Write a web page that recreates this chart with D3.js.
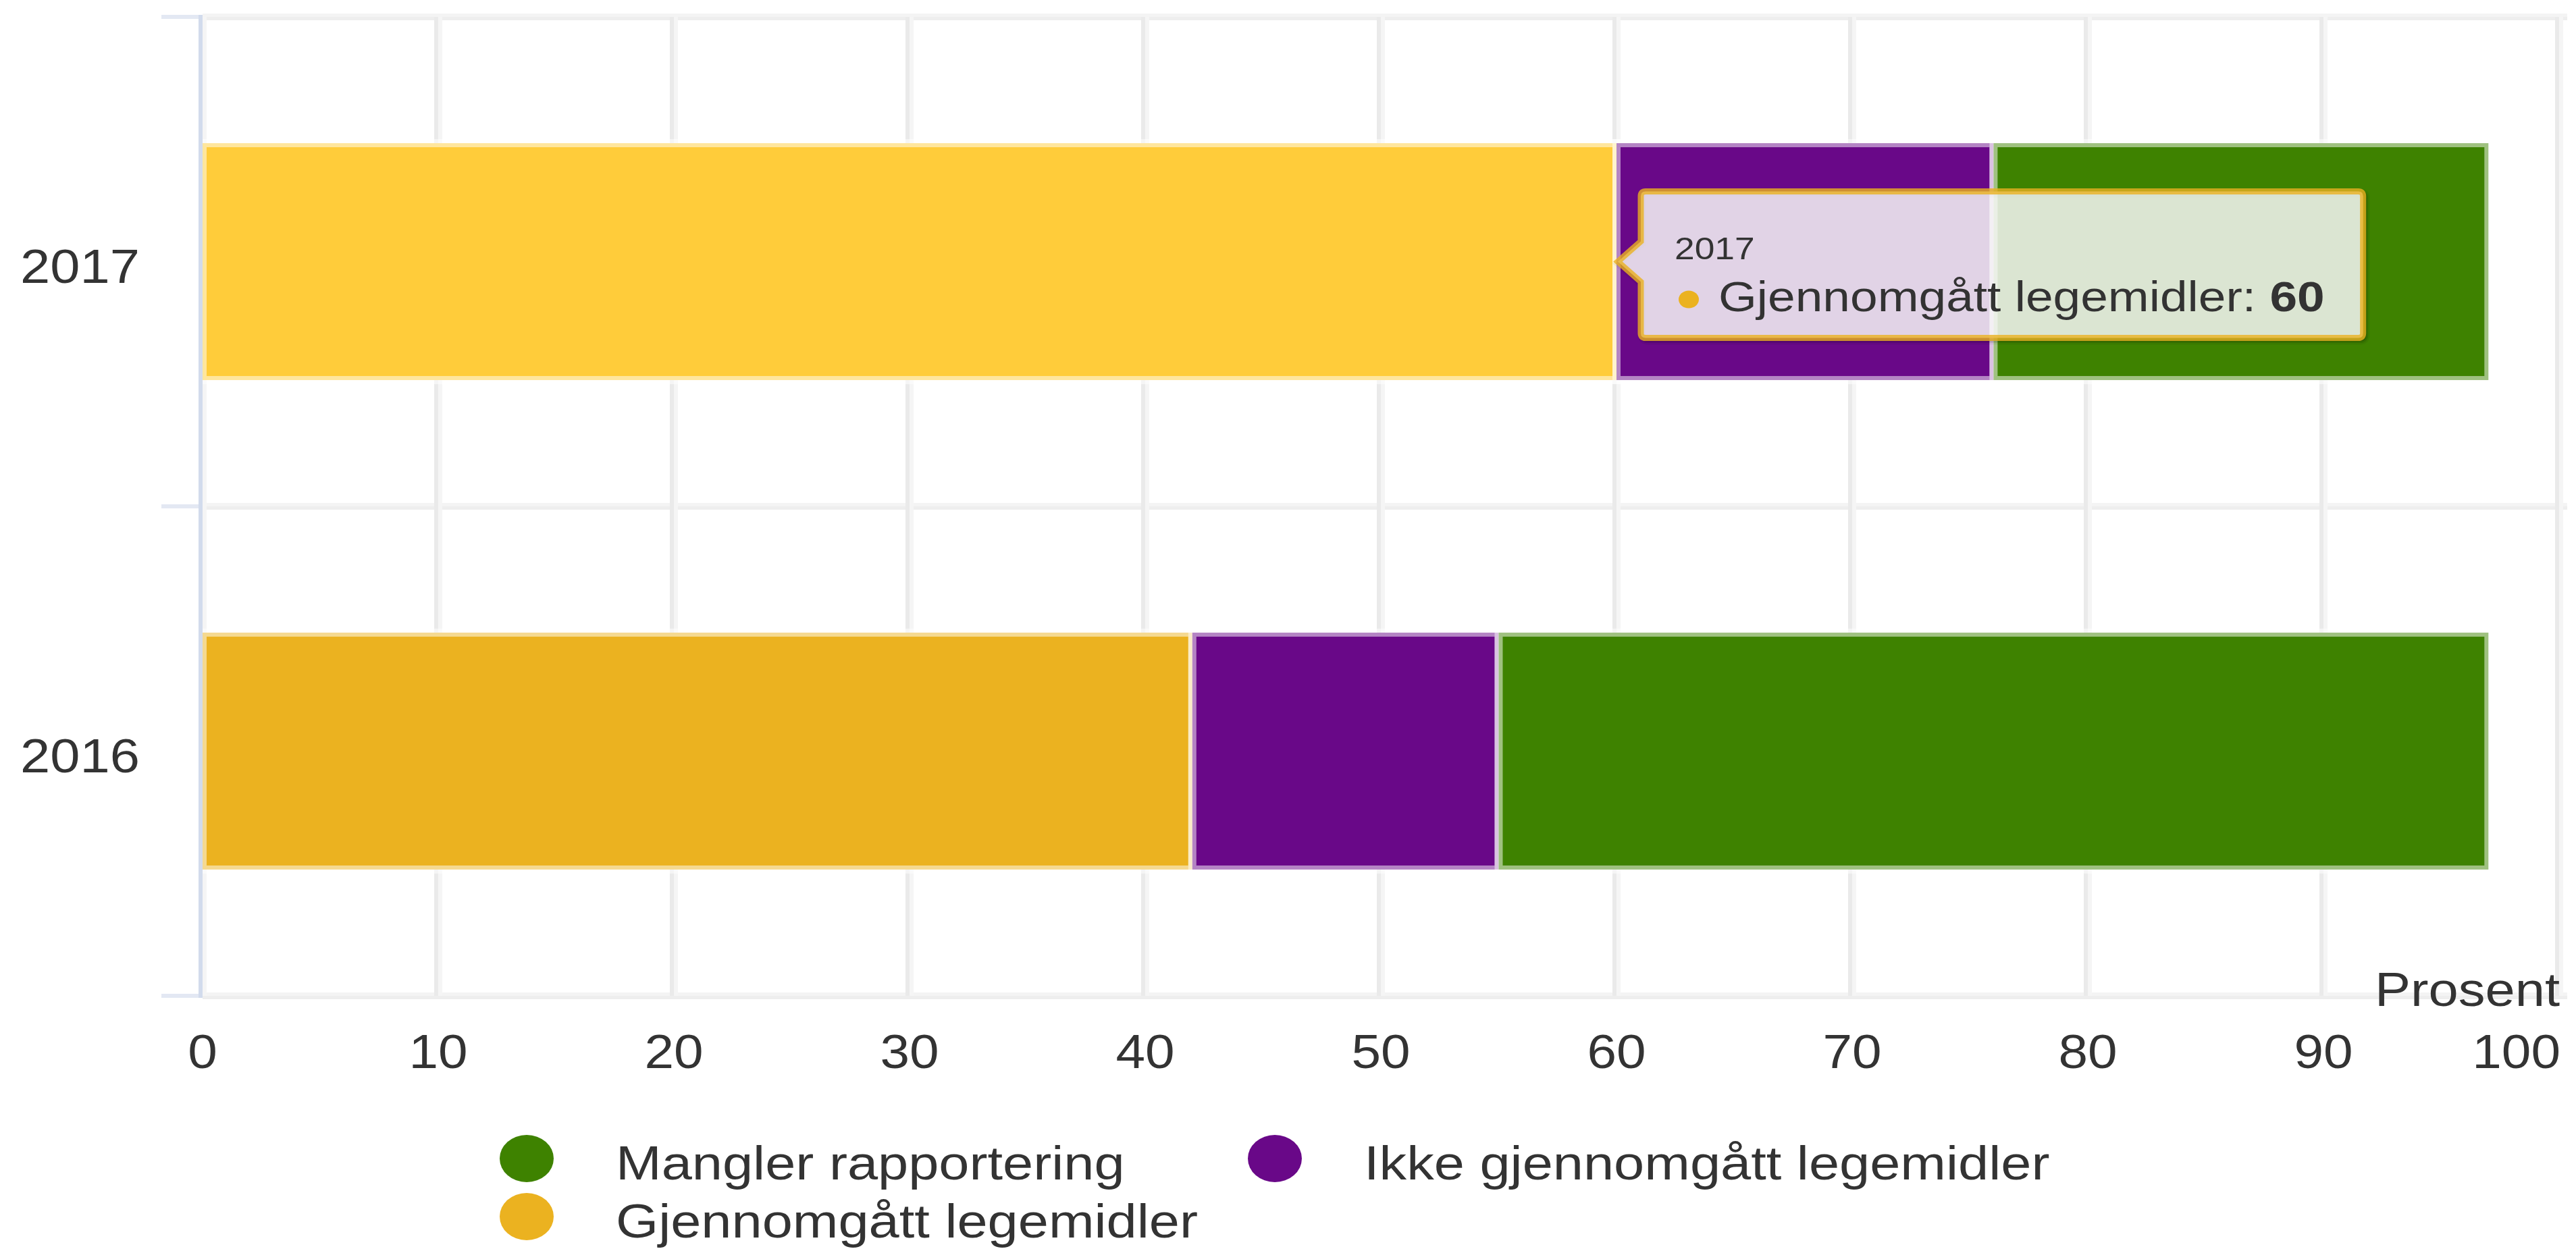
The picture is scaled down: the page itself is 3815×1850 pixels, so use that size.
<!DOCTYPE html>
<html>
<head>
<meta charset="utf-8">
<script src="https://cdn.jsdelivr.net/npm/d3@7"></script>
<style>
  html, body { margin: 0; padding: 0; background: #ffffff; }
  svg { display: block; font-family: "Liberation Sans", Arial, Helvetica, sans-serif; }
</style>
</head>
<body>
<svg id="chart" width="3815" height="1850"></svg>
<script>
// ---- data ----
const categories = ["2017", "2016"];
const seriesNames = ["Mangler rapportering", "Ikke gjennomgått legemidler", "Gjennomgått legemidler"];
const seriesColors = ["#3e8200", "#690888", "#ebb220"];
const manglerRapportering = [21, 42];
const ikkeGjennomgatt = [16, 13];
const gjennomgatt = [60, 42];
const xTicks = [0, 10, 20, 30, 40, 50, 60, 70, 80, 90, 100];
const xAxisTitle = "Prosent";
const hovered = { category: "2017", series: "Gjennomgått legemidler" };

// ---- layout ----
const W = 3815, H = 1850;
const plot = { left: 300, right: 3790, top: 25, bottom: 1475 };
const textStretch = 1.12;     // glyphs are drawn slightly wide
const legendStretch = 1.16;
const ink = "#333333";

const svg = d3.select("#chart");

const x = d3.scaleLinear().domain([0, 100]).range([plot.left, plot.right]);
const y = d3.scaleBand().domain(categories).range([plot.top, plot.bottom])
  .paddingInner(0.516).paddingOuter(0.258);

const colorOf = d3.scaleOrdinal().domain(seriesNames).range(seriesColors);

// rows for stacking
const rows = categories.map((c, i) => ({
  category: c,
  [seriesNames[0]]: manglerRapportering[i],
  [seriesNames[1]]: ikkeGjennomgatt[i],
  [seriesNames[2]]: gjennomgatt[i]
}));
// the last series sits next to the axis, the first one at the far end
const stacked = d3.stack().keys(seriesNames.slice().reverse())(rows);

// ---- grid ----
const grid = svg.append("g");
// category separators (horizontal)
const sep = [plot.top, plot.top + y.step(), plot.bottom];
grid.selectAll("line.hsepLight").data(sep).join("line")
  .attr("x1", plot.left).attr("x2", plot.right + 12)
  .attr("y1", d => d - 2.5).attr("y2", d => d - 2.5)
  .attr("stroke", "#f4f4f4").attr("stroke-width", 5);
grid.selectAll("line.hsepDark").data(sep).join("line")
  .attr("x1", plot.left).attr("x2", plot.right + 12)
  .attr("y1", d => d + 2.5).attr("y2", d => d + 2.5)
  .attr("stroke", "#eeeeee").attr("stroke-width", 5);

// value grid (vertical)
grid.selectAll("line.vDark").data(xTicks.filter(t => t > 0)).join("line")
  .attr("x1", d => x(d) - 3).attr("x2", d => x(d) - 3)
  .attr("y1", plot.top).attr("y2", plot.bottom)
  .attr("stroke", "#eaeaea").attr("stroke-width", 6);
grid.selectAll("line.vLight").data(xTicks).join("line")
  .attr("x1", d => x(d) + 3).attr("x2", d => x(d) + 3)
  .attr("y1", plot.top).attr("y2", plot.bottom)
  .attr("stroke", "#f5f5f5").attr("stroke-width", 6);

// ---- bars ----
function brighten(hex, amt) {
  const c = d3.rgb(hex);
  const f = v => Math.min(255, Math.round(v + 255 * amt));
  return d3.rgb(f(c.r), f(c.g), f(c.b)).formatHex();
}

const barLayer = svg.append("g");
stacked.forEach(layer => {
  barLayer.append("g").selectAll("rect").data(layer).join("rect")
    .attr("x", d => x(d[0]))
    .attr("width", d => x(d[1]) - x(d[0]))
    .attr("y", d => y(d.data.category))
    .attr("height", y.bandwidth())
    .attr("fill", d => (d.data.category === hovered.category && layer.key === hovered.series)
      ? brighten(colorOf(layer.key), 0.1) : colorOf(layer.key))
    .attr("stroke", "#ffffff")
    .attr("stroke-width", 12)
    .attr("stroke-opacity", 0.5);
});

// ---- category axis ----
const yAxis = svg.append("g");
yAxis.selectAll("line.tick").data(sep).join("line")
  .attr("x1", plot.left - 61).attr("x2", plot.left - 3)
  .attr("y1", d => d).attr("y2", d => d)
  .attr("stroke", "#e3e8f3").attr("stroke-width", 6);
yAxis.append("line")
  .attr("x1", plot.left - 3).attr("x2", plot.left - 3)
  .attr("y1", plot.top - 3).attr("y2", plot.bottom + 3)
  .attr("stroke", "#d2dbec").attr("stroke-width", 6);
yAxis.selectAll("text").data(categories).join("text")
  .attr("transform", d => `translate(207,${y(d) + y.bandwidth() / 2 + 31}) scale(${textStretch},1)`)
  .attr("text-anchor", "end")
  .attr("font-size", 71)
  .attr("fill", ink)
  .text(d => d);

// ---- value axis labels ----
const xLabels = svg.append("g");
xLabels.selectAll("text").data(xTicks).join("text")
  .attr("transform", d => `translate(${x(d)},1582) scale(${textStretch},1)`)
  .attr("text-anchor", "middle")
  .attr("font-size", 70)
  .attr("fill", ink)
  .text(d => d)
  .each(function () {
    // keep the last label inside the chart edge
    const b = this.getBoundingClientRect();
    const limit = plot.right + 2;
    if (b.right > limit) {
      const d = d3.select(this).datum();
      d3.select(this).attr("transform",
        `translate(${x(d) - (b.right - limit)},1582) scale(${textStretch},1)`);
    }
  });

svg.append("text")
  .attr("transform", `translate(${plot.right + 1},1490) scale(${textStretch},1)`)
  .attr("text-anchor", "end")
  .attr("font-size", 71)
  .attr("fill", ink)
  .text(xAxisTitle);

// ---- legend ----
const legendItems = [
  { name: seriesNames[0], cx: 780, cy: 1716 },
  { name: seriesNames[1], cx: 1888, cy: 1716 },
  { name: seriesNames[2], cx: 780, cy: 1802 }
];
const legend = svg.append("g");
legendItems.forEach(it => {
  legend.append("ellipse")
    .attr("cx", it.cx).attr("cy", it.cy).attr("rx", 40).attr("ry", 35)
    .attr("fill", colorOf(it.name));
  legend.append("text")
    .attr("transform", `translate(${it.cx + 132},${it.cy + 31}) scale(${legendStretch},1)`)
    .attr("font-size", 70)
    .attr("fill", ink)
    .text(it.name);
});

// ---- tooltip for the highlighted point ----
const hIdx = categories.indexOf(hovered.category);
const hValue = gjennomgatt[hIdx];
const hx = x(hValue);
const hy = y(hovered.category) + y.bandwidth() / 2;

const tip = svg.append("g");
const boxL = hx + 36, boxT = hy - 104, boxB = hy + 113;
const shadowG = tip.append("g");
const boxPath = tip.append("path");

tip.append("text")
  .attr("transform", `translate(${boxL + 50},${hy - 4}) scale(${legendStretch},1)`)
  .attr("font-size", 46)
  .attr("fill", ink)
  .text(hovered.category);

tip.append("ellipse")
  .attr("cx", boxL + 71).attr("cy", hy + 56).attr("rx", 15).attr("ry", 13)
  .attr("fill", colorOf(hovered.series));

const body = tip.append("text")
  .attr("transform", `translate(${boxL + 115},${hy + 73}) scale(${legendStretch},1)`)
  .attr("font-size", 63)
  .attr("fill", ink);
body.append("tspan").text(hovered.series + ": ");
body.append("tspan").attr("font-weight", "bold").text(hValue);

const bodyW = body.node().getComputedTextLength() * legendStretch;
const boxR = boxL + 115 + bodyW + 57;
const r = 7, aw = 34, ah = 30;
const pathD = `M${boxL + r},${boxT} H${boxR - r} Q${boxR},${boxT} ${boxR},${boxT + r}
  V${boxB - r} Q${boxR},${boxB} ${boxR - r},${boxB} H${boxL + r} Q${boxL},${boxB} ${boxL},${boxB - r}
  V${hy + ah} L${boxL - aw},${hy} L${boxL},${hy - ah} V${boxT + r} Q${boxL},${boxT} ${boxL + r},${boxT} Z`;

[[14, 0.05], [9, 0.1], [4, 0.15]].forEach(([w, o]) => {
  shadowG.append("path").attr("d", pathD)
    .attr("transform", "translate(3,3)")
    .attr("fill", "none").attr("stroke", "#000").attr("stroke-width", w).attr("stroke-opacity", o);
});
boxPath.attr("d", pathD)
  .attr("fill", "rgba(247,247,247,0.85)")
  .attr("stroke", colorOf(hovered.series))
  .attr("stroke-width", 9)
  .attr("stroke-opacity", 0.8);
</script>
</body>
</html>
